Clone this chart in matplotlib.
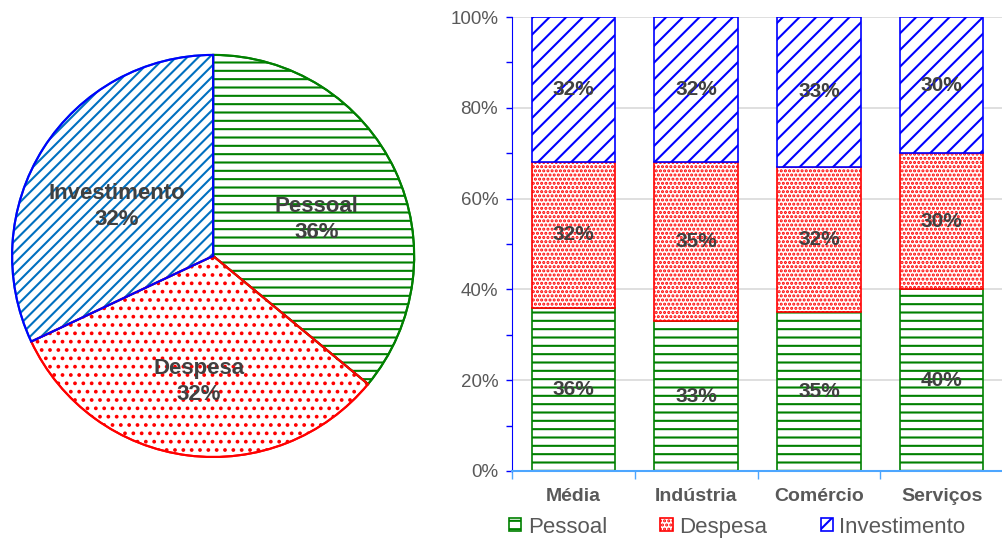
import matplotlib.pyplot as plt
from matplotlib.patches import Wedge
from matplotlib.ticker import FixedLocator, PercentFormatter

# data
categories = ["Média", "Indústria", "Comércio", "Serviços"]
series = ["Pessoal", "Despesa", "Investimento"]
pessoal = [36, 33, 35, 40]
despesa = [32, 35, 32, 30]
investimento = [32, 32, 33, 30]
pie_values = [36, 32, 32]  # Média

edge_colors = ["#008000", "#FF0000", "#0000FF"]
pie_hatch_colors = ["#008000", "#FF0000", "#0070C0"]
pie_hatches = ["--", "..", "///"]
bar_hatches = ["--", "....", "//"]

plt.rcParams["font.family"] = ["Liberation Sans", "DejaVu Sans"]
plt.rcParams["hatch.linewidth"] = 1.5

fig = plt.figure(figsize=(10.03, 5.4), dpi=100)

# ---- pie ----
axPie = fig.add_axes([0.010, 0.15, 0.405, 0.752])
labels = [f"{s}\n{v}%" for s, v in zip(series, pie_values)]
wedges, texts = axPie.pie(pie_values, startangle=90, counterclock=False,
                          labels=labels, labeldistance=0.57,
                          wedgeprops=dict(linewidth=1.5))
for w, hc, h in zip(wedges, pie_hatch_colors, pie_hatches):
    w.set_facecolor("white")
    w.set_edgecolor(hc)
    w.set_hatch(h)
for w, ec in zip(wedges, edge_colors):
    # outline on top in the series colour
    axPie.add_patch(Wedge(w.center, w.r, w.theta1, w.theta2,
                          facecolor="none", edgecolor=ec, linewidth=1.5))
for t in texts:
    tx, ty = t.get_position()
    t.set_position((tx, ty - 0.06))
    t.set_ha("center")
    t.set_va("center")
    t.set_fontsize(16)
    t.set_fontweight("bold")
    t.set_color("#404040")
    t.set_linespacing(1.3)
axPie.set_xlim(-1.01, 1.01)
axPie.set_ylim(-1.01, 1.01)
axPie.set_aspect("equal")

# ---- stacked bars ----
axBar = fig.add_axes([0.5105, 0.1278, 0.4895, 0.8407])
x = range(len(categories))
bottoms = [0] * len(categories)
handles = []
for name, vals, ec, h in zip(series, [pessoal, despesa, investimento], edge_colors, bar_hatches):
    bars = axBar.bar(x, vals, bottom=bottoms, width=0.68, facecolor="white",
                     edgecolor=ec, hatch=h, linewidth=1.2, label=name, zorder=2)
    handles.append(bars)
    for xi, v, b in zip(x, vals, bottoms):
        axBar.text(xi, b + v / 2, f"{v}%", ha="center", va="center", fontsize=15,
                   fontweight="bold", color="#404040", zorder=3)
    bottoms = [b + v for b, v in zip(bottoms, vals)]

axBar.set_xlim(-0.5, 3.5)
axBar.set_ylim(0, 100)
axBar.yaxis.set_major_locator(FixedLocator([0, 20, 40, 60, 80, 100]))
axBar.yaxis.set_minor_locator(FixedLocator([10, 30, 50, 70, 90]))
axBar.yaxis.set_major_formatter(PercentFormatter(decimals=0))
axBar.grid(axis="y", color="#D9D9D9", linewidth=1.2, zorder=0)
axBar.set_axisbelow(True)
axBar.tick_params(axis="y", which="both", colors="#0000FF", labelcolor="#595959",
                  labelsize=13.5, length=4, width=1, direction="out", pad=6)
axBar.set_xticks(list(x))
axBar.set_xticklabels(categories, fontsize=14, fontweight="bold", color="#595959")
axBar.tick_params(axis="x", which="major", length=0, pad=12)
axBar.xaxis.set_minor_locator(FixedLocator([-0.5, 0.5, 1.5, 2.5]))
axBar.tick_params(axis="x", which="minor", length=6, color="#4DA6FF", width=1)
for s in ["top", "right"]:
    axBar.spines[s].set_visible(False)
axBar.spines["left"].set_color("#0000FF")
axBar.spines["bottom"].set_color("#4DA6FF")
axBar.spines["bottom"].set_linewidth(1.5)

leg = fig.legend(handles, series, loc="center", bbox_to_anchor=(0.735, 0.024), ncol=3,
                 frameon=False, fontsize=16, handlelength=0.55, handleheight=0.55,
                 handletextpad=0.3, columnspacing=2.4, labelcolor="#595959",
                 borderpad=0)

fig.savefig("out.png", dpi=100)
